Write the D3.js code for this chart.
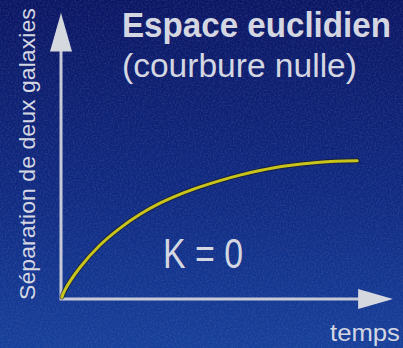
<!DOCTYPE html>
<html>
<head>
<meta charset="utf-8">
<script src="https://cdn.jsdelivr.net/npm/d3@7/dist/d3.min.js"></script>
<style>
  html, body { margin: 0; padding: 0; background: #0c1a6c; }
  svg { display: block; }
</style>
</head>
<body>
<script>
// Separation of two galaxies over time in a flat (Euclidean) universe
const time = [0.3, 1.2, 5.7, 11.7, 17.8, 23.8, 29.8, 35.8, 41.9, 47.9, 53.9, 59.9, 66.9, 78.0, 89.2];
const separation = [0.7, 3.2, 11.0, 18.8, 24.8, 29.6, 33.5, 36.6, 39.2, 41.4, 43.3, 44.9, 46.4, 47.8, 48.3];

const title = "Espace euclidien";
const subtitle = "(courbure nulle)";
const yLabel = "Séparation de deux galaxies";
const xLabel = "temps";
const curveLabel = "K = 0";

const W = 403, H = 348;
const svg = d3.select("body").append("svg").attr("width", W).attr("height", H);
const defs = svg.append("defs");

const grad = defs.append("linearGradient").attr("id", "bg")
  .attr("x1", 0).attr("y1", 0).attr("x2", 0).attr("y2", 1);
grad.append("stop").attr("offset", "0%").attr("stop-color", "#0a1664");
grad.append("stop").attr("offset", "55%").attr("stop-color", "#0f2a82");
grad.append("stop").attr("offset", "100%").attr("stop-color", "#16409c");

svg.append("rect").attr("width", W).attr("height", H).attr("fill", "url(#bg)");

// fine print grain
const grain = defs.append("filter").attr("id", "grain")
  .attr("x", 0).attr("y", 0).attr("width", "100%").attr("height", "100%");
grain.append("feTurbulence").attr("type", "fractalNoise")
  .attr("baseFrequency", 0.6).attr("numOctaves", 1).attr("seed", 3).attr("result", "n");
grain.append("feColorMatrix").attr("in", "n").attr("type", "matrix")
  .attr("values", "0 0 0 0 0.25  0 0 0 0 0.22  0 0 0 0 0.4  1.4 0 0 0 -0.55");
svg.append("rect").attr("width", W).attr("height", H)
  .attr("filter", "url(#grain)").attr("opacity", 0.35);

const x = d3.scaleLinear().domain([0, 100]).range([61, 393]);
const y = d3.scaleLinear().domain([0, 100]).range([299, 13]);

const axisColor = "#c6cad8";
const textColor = "#d4d7e2";

// axes with arrow heads
svg.append("line").attr("x1", x(0)).attr("y1", y(0)).attr("x2", x(0)).attr("y2", y(88))
  .attr("stroke", axisColor).attr("stroke-width", 3);
svg.append("path")
  .attr("d", `M${x(0)},${y(100)} L${x(0) - 11},${y(86.5)} L${x(0) + 11},${y(86.5)} Z`)
  .attr("fill", "#d6d8e0");
svg.append("line").attr("x1", x(0) - 1.5).attr("y1", y(0)).attr("x2", x(90)).attr("y2", y(0))
  .attr("stroke", axisColor).attr("stroke-width", 3);
svg.append("path")
  .attr("d", `M${x(100)},${y(0)} L${x(89.5)},${y(0) - 10} L${x(89.5)},${y(0) + 10} Z`)
  .attr("fill", "#d6d8e0");

// curve
const pts = time.map((t, i) => [t, separation[i]]);
const line = d3.line().x(d => x(d[0])).y(d => y(d[1])).curve(d3.curveCatmullRom.alpha(0.5));
svg.append("path").datum(pts).attr("d", line)
  .attr("fill", "none").attr("stroke", "#1a1a10").attr("stroke-width", 5).attr("stroke-linecap", "round").attr("opacity", 0.6);
svg.append("path").datum(pts).attr("d", line)
  .attr("fill", "none").attr("stroke", "#c9c41c").attr("stroke-width", 3).attr("stroke-linecap", "round");

const narrow = "'Liberation Sans Narrow', 'Arial Narrow', 'Liberation Sans', Arial, sans-serif";

// Condensed lettering: draw at full size, then squeeze horizontally to the given width
function condensed(txt, px, py, size, width, opts = {}) {
  const g = svg.append("g");
  const t = g.append("text").text(txt)
    .attr("font-family", narrow).attr("font-size", size)
    .attr("font-weight", opts.bold ? "bold" : "normal").attr("fill", textColor);
  const natural = t.node().getComputedTextLength();
  const sx = width / natural;
  const rot = opts.rotate ? ` rotate(${opts.rotate})` : "";
  g.attr("transform", `translate(${px},${py})${rot} scale(${sx},1)`);
  return t;
}

condensed(title, 122, 37, 35, 269, { bold: true });
condensed(subtitle, 122, 77, 34, 235);
condensed(yLabel, 35, 300, 22, 292, { rotate: -90 });
condensed(xLabel, 330, 341, 23, 70);
condensed(curveLabel, 163, 268, 42, 80);
</script>
</body>
</html>
